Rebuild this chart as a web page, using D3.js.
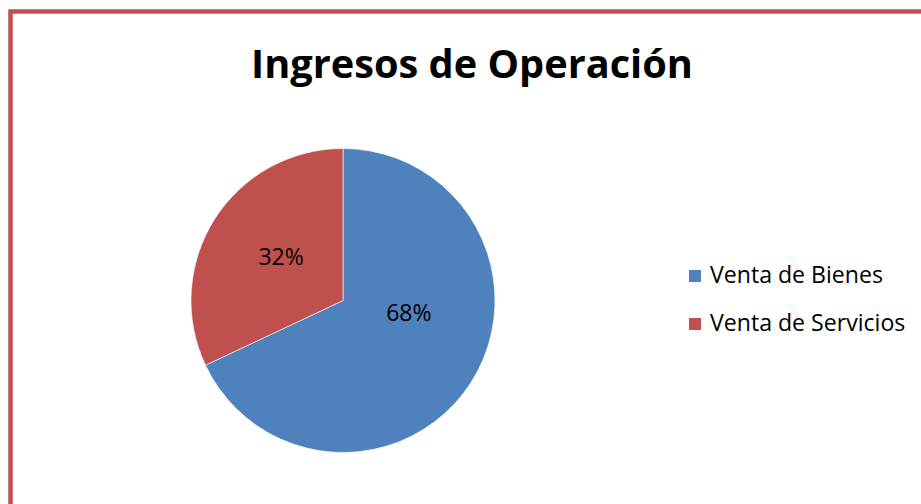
<!DOCTYPE html>
<html>
<head>
<meta charset="utf-8">
<script src="https://cdn.jsdelivr.net/npm/d3@7"></script>
<style>
  body { margin: 0; background: #fff; }
  text { font-family: "Open Sans", "Liberation Sans", sans-serif; fill: #000; }
</style>
</head>
<body>
<svg id="chart" width="921" height="504"></svg>
<script>
// chart data
const title = "Ingresos de Operación";
const categories = ["Venta de Bienes", "Venta de Servicios"];
const shares = [68, 32];
const colours = ["#4F81BD", "#C0504D"];

const width = 921, height = 504;
const svg = d3.select("#chart");

// outer frame (only left and top edges fall inside the picture)
svg.append("rect")
    .attr("x", 10.5)
    .attr("y", 11.5)
    .attr("width", 940)
    .attr("height", 540)
    .attr("fill", "none")
    .attr("stroke", "#C0504D")
    .attr("stroke-width", 4.5);

// title, sized to the reference width
let titleText = svg.append("text")
    .attr("x", 472)
    .attr("y", 78)
    .attr("text-anchor", "middle")
    .attr("font-weight", "bold")
    .attr("font-size", 40)
    .text(title);
let tw = titleText.node().getComputedTextLength();
titleText.attr("font-size", 40 * 442 / tw);

// pie
const cx = 343, cy = 300.5, radius = 152;
const pie = d3.pie().sort(null).value(d => d);
const arcs = pie(shares);
const arc = d3.arc().innerRadius(0).outerRadius(radius);

let g = svg.append("g").attr("transform", `translate(${cx},${cy})`);
g.selectAll("path")
    .data(arcs)
    .join("path")
    .attr("d", arc)
    .attr("fill", (d, i) => colours[i])
    .attr("stroke", "#fff")
    .attr("stroke-width", 0.6);

// data labels: centroid of a smaller arc, with Excel-ish best fit nudges
// (index 0 = Bienes / blue, index 1 = Servicios / red)
const labelArc = d3.arc().innerRadius(0).outerRadius(radius * 0.98);
const nudge = [[3, -27], [1, -4]];
g.selectAll("text.pct")
    .data(arcs)
    .join("text")
    .attr("class", "pct")
    .attr("x", (d, i) => labelArc.centroid(d)[0] + nudge[i][0])
    .attr("y", (d, i) => labelArc.centroid(d)[1] + nudge[i][1])
    .attr("text-anchor", "middle")
    .attr("dy", "0.35em")
    .attr("font-size", 23)
    .text(d => d.data + "%");

// legend
const legendY = d3.scalePoint()
    .domain(categories)
    .range([276, 324]);

let legend = svg.append("g");
legend.selectAll("rect")
    .data(categories)
    .join("rect")
    .attr("x", 689)
    .attr("y", d => legendY(d) - 6)
    .attr("width", 12)
    .attr("height", 12)
    .attr("fill", (d, i) => colours[i]);

let legendText = legend.selectAll("text")
    .data(categories)
    .join("text")
    .attr("x", 710)
    .attr("y", d => legendY(d) + 7)
    .attr("font-size", 20)
    .text(d => d);
let lw = legendText.nodes()[0].getComputedTextLength();
legendText.attr("font-size", 20 * 173 / lw);
</script>
</body>
</html>
